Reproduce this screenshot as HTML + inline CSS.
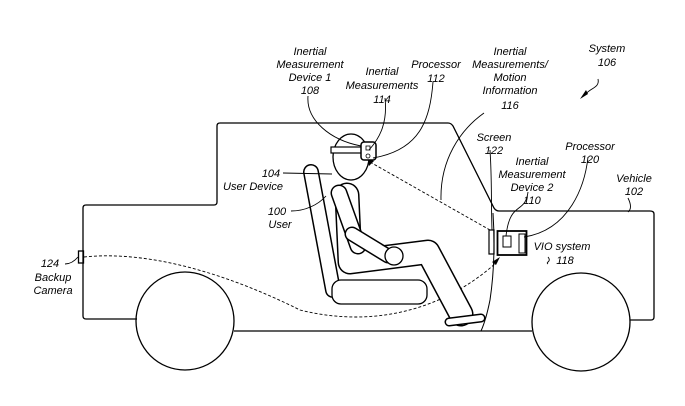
<!DOCTYPE html>
<html><head><style>
html,body{margin:0;padding:0;background:#fff;}
svg{display:block}
text{font-family:"Liberation Sans",sans-serif;font-style:italic;font-size:11px;fill:#000;text-anchor:middle}
</style></head><body>
<svg width="685" height="406" viewBox="0 0 685 406" xmlns="http://www.w3.org/2000/svg">
<g fill="none" stroke="#000" stroke-width="1.3">
<path d="M137,319 H86 Q83,319 83,316 V208 Q83,205 86,205 H214 Q217,205 217,202 V126 Q217,123 220,123 H448 Q451,123 453,126 L494,208 Q496,211 499,211 H650 Q654,211 654,214 V317 Q654,320 651,320 H630"/>
<path d="M234,331 H532"/>
<circle cx="185" cy="321" r="49"/>
<circle cx="581" cy="322" r="49"/>
<rect x="78.5" y="251" width="5" height="12"/>
</g>
<g fill="none" stroke="#000" stroke-width="0.9" stroke-dasharray="3,2">
<path d="M84,257 C150,250 230,275 300,310 C380,330 450,305 497,262"/>
<path d="M370,162 L490,230"/>
</g>
<polygon points="500,257 492,262 496,265" fill="#000"/>
<polygon points="367,158 374,161 369,166" fill="#000"/>
<g stroke-linecap="round" fill="none">
<path d="M311,172 L333,290" stroke="#000" stroke-width="16"/>
<path d="M311,172 L333,290" stroke="#fff" stroke-width="13"/>
</g>
<rect x="332" y="280" width="95" height="24" rx="9" fill="#fff" stroke="#000" stroke-width="1.3"/>
<g stroke-linecap="round" fill="none">
<path d="M347,195 L350,262 L428,252 L461,314" stroke="#000" stroke-width="25" stroke-linejoin="round"/>
<path d="M347,195 L350,262 L428,252 L461,314" stroke="#fff" stroke-width="22" stroke-linejoin="round"/>
<path d="M339,193 L358,246" stroke="#000" stroke-width="17"/>
<path d="M339,193 L358,246" stroke="#fff" stroke-width="14"/>
<path d="M352,234 L388,256" stroke="#000" stroke-width="15"/>
<path d="M352,234 L388,256" stroke="#fff" stroke-width="12"/>
<path d="M449,322 L481,318" stroke="#000" stroke-width="9"/>
<path d="M449,322 L481,318" stroke="#fff" stroke-width="6"/>
</g>
<circle cx="394" cy="256" r="9" fill="#fff" stroke="#000" stroke-width="1.3"/>
<ellipse cx="351" cy="157" rx="18" ry="23" fill="#fff" stroke="#000" stroke-width="1.3"/>
<rect x="331" y="147" width="32" height="6" fill="#fff" stroke="#000" stroke-width="1.2"/>
<rect x="361" y="142" width="15" height="18" rx="3" fill="#fff" stroke="#000" stroke-width="1.5"/>
<rect x="366" y="146" width="4" height="4" fill="none" stroke="#000" stroke-width="0.8"/>
<circle cx="368" cy="156" r="2" fill="none" stroke="#000" stroke-width="0.8"/>
<g fill="none" stroke="#000">
<path d="M493,213 Q496,260 490,300 Q486,320 481,331" stroke-width="1"/>
<rect x="489" y="230" width="5" height="24" stroke-width="1.2"/>
<rect x="497.5" y="231" width="29" height="24" stroke-width="1.8"/>
<rect x="503" y="236" width="8" height="11" stroke-width="1"/>
<rect x="519" y="234" width="6" height="19" stroke-width="1"/>
</g>
<g fill="none" stroke="#000" stroke-width="0.9">
<path d="M308,96 C306,120 330,140 361,146"/>
<path d="M385,98 C388,125 378,140 369,150"/>
<path d="M433,82 C430,120 420,150 373,158"/>
<path d="M484,113 C460,130 440,160 441,200"/>
<path d="M490,150 C492,180 491,200 492,230"/>
<path d="M528,192 C525,215 510,200 506,236"/>
<path d="M588,157 C585,185 570,230 524,237"/>
<path d="M628,198 Q633,208 628,212"/>
<path d="M548,257 C552,262 545,262 548,264"/>
<path d="M283,173 L332,174"/>
<path d="M291,211 C305,211 318,205 326,196"/>
<path d="M65,264 Q72,264 78,257"/>
<path d="M598,79 C600,88 590,88 586,94"/>
</g>
<polygon points="580,99 588,94 586,90" fill="#000"/>
<text x="310" y="55">Inertial</text>
<text x="310" y="68">Measurement</text>
<text x="310" y="81">Device 1</text>
<text x="310" y="94">108</text>
<text x="382" y="75">Inertial</text>
<text x="382" y="89">Measurements</text>
<text x="382" y="103">114</text>
<text x="436" y="68">Processor</text>
<text x="436" y="82">112</text>
<text x="510" y="55">Inertial</text>
<text x="510" y="68">Measurements/</text>
<text x="510" y="81">Motion</text>
<text x="510" y="94">Information</text>
<text x="510" y="109">116</text>
<text x="607" y="52">System</text>
<text x="607" y="66">106</text>
<text x="494" y="141">Screen</text>
<text x="494" y="154">122</text>
<text x="532" y="165">Inertial</text>
<text x="532" y="178">Measurement</text>
<text x="532" y="191">Device 2</text>
<text x="532" y="204">110</text>
<text x="590" y="150">Processor</text>
<text x="590" y="163">120</text>
<text x="634" y="182">Vehicle</text>
<text x="634" y="195">102</text>
<text x="562" y="250">VIO system</text>
<text x="565" y="264">118</text>
<text x="271" y="177">104</text>
<text x="253" y="190">User Device</text>
<text x="277" y="215">100</text>
<text x="280" y="228">User</text>
<text x="50" y="267">124</text>
<text x="53" y="281">Backup</text>
<text x="53" y="294">Camera</text>
</svg>
</body></html>
